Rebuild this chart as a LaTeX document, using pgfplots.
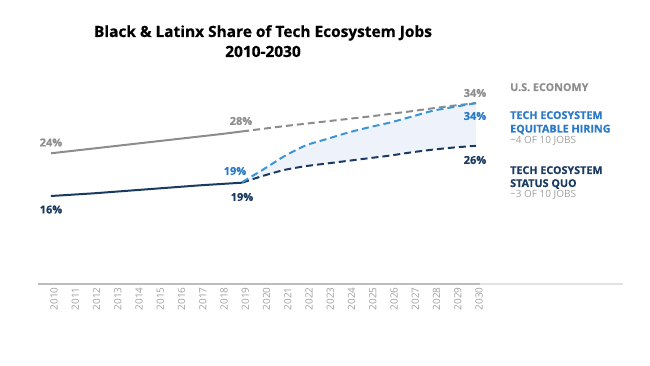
\documentclass[border=0pt]{standalone}
\usepackage{pgfplots}
\pgfplotsset{compat=1.18}
\usepgfplotslibrary{fillbetween}
\usepackage{fontspec}
\setmainfont{Open Sans}[BoldFeatures={FakeBold=0.5}]
\definecolor{grayline}{HTML}{8C8C8C}
\definecolor{graytext}{HTML}{8E8E8E}
\definecolor{lblue}{HTML}{3A94D8}
\definecolor{bluetext}{HTML}{2A7AC8}
\definecolor{navy}{HTML}{1A3A61}
\definecolor{fillblue}{HTML}{EEF3FB}
\definecolor{axisgray}{HTML}{BDBDBD}
\definecolor{axislight}{HTML}{E2E2E2}
\definecolor{ticktext}{HTML}{A0A0A0}
\definecolor{subgray}{HTML}{A0A0A0}
\begin{document}
\begin{tikzpicture}
\path (0bp,0bp) rectangle (650bp,366bp);
\draw[axislight, line width=1.2bp] (480bp,82bp) -- (623bp,82bp);
\begin{axis}[
  at={(38bp,82bp)}, anchor=south west,
  scale only axis, width=445bp, height=204bp,
  xmin=2009.39, xmax=2030.33, ymin=-0.48, ymax=37.73,
  hide y axis, axis x line*=bottom,
  axis line style={-, draw=axisgray, line width=1.2bp},
  xtick={2010,...,2030}, major tick length=0pt,
  xticklabel style={rotate=90, anchor=east, font=\fontsize{10}{12}\selectfont, text=ticktext, yshift=-3bp},
  /pgf/number format/1000 sep={},
  /pgf/number format/assume math mode=true,
]
% U.S. economy
\addplot[grayline, line width=2bp] table {
2010 24.0
2011 24.45
2012 24.9
2013 25.35
2014 25.8
2015 26.25
2016 26.7
2017 27.15
2018 27.6
2019 28.1
};
\addplot[grayline, line width=2bp, dash pattern=on 7bp off 4bp, smooth, tension=0.3] table {
2019 28.1
2020 28.6
2021 29.1
2022 29.55
2023 30.0
2024 30.45
2025 30.9
2026 31.4
2027 31.9
2028 32.45
2029 32.95
2030 33.4
};
% fill between
\addplot[name path=eq, draw=none, forget plot, smooth, tension=0.4] table {
2019 18.6
2020 21.0
2021 23.5
2022 25.5
2023 26.7
2024 27.9
2025 28.9
2026 29.8
2027 30.9
2028 32.0
2029 32.7
2030 33.4
};
\addplot[name path=sq, draw=none, forget plot, smooth, tension=0.4] table {
2019 18.5
2020 19.8
2021 20.9
2022 21.6
2023 22.1
2024 22.6
2025 23.1
2026 23.6
2027 24.2
2028 24.7
2029 25.1
2030 25.4
};
\addplot[fillblue, draw=none] fill between[of=eq and sq];
% status quo
\addplot[navy, line width=2bp] table {
2010 16.0
2011 16.25
2012 16.5
2013 16.8
2014 17.1
2015 17.4
2016 17.7
2017 18.0
2018 18.25
2019 18.5
};
\addplot[navy, line width=2bp, dash pattern=on 7bp off 4bp, smooth, tension=0.4] table {
2019 18.5
2020 19.8
2021 20.9
2022 21.6
2023 22.1
2024 22.6
2025 23.1
2026 23.6
2027 24.2
2028 24.7
2029 25.1
2030 25.4
};
% equitable hiring
\addplot[lblue, line width=2bp, dash pattern=on 7bp off 4bp, smooth, tension=0.4] table {
2019 18.6
2020 21.0
2021 23.5
2022 25.5
2023 26.7
2024 27.9
2025 28.9
2026 29.8
2027 30.9
2028 32.0
2029 32.7
2030 33.4
};
\end{axis}
% title
\node[font=\bfseries\fontsize{15.5}{18}\selectfont, anchor=base] at (263bp,329bp) {Black \& Latinx Share of Tech Ecosystem Jobs};
\node[font=\bfseries\fontsize{15.5}{18}\selectfont, anchor=base] at (263bp,309bp) {2010-2030};
% data labels
\begin{scope}[every node/.style={font=\bfseries\fontsize{11}{13}\selectfont, anchor=center, inner sep=0pt}]
\node[text=graytext] at (51bp,223.5bp) {24\%};
\node[text=graytext] at (241bp,245bp) {28\%};
\node[text=graytext] at (475bp,273bp) {34\%};
\node[text=bluetext] at (475bp,250bp) {34\%};
\node[text=navy] at (475bp,206bp) {26\%};
\node[text=bluetext] at (235bp,195bp) {19\%};
\node[text=navy] at (242bp,169bp) {19\%};
\node[text=navy] at (51bp,156.5bp) {16\%};
\end{scope}
% right labels
\begin{scope}[every node/.style={anchor=base west, inner sep=0pt}]
\node[font=\bfseries\fontsize{10.8}{12}\selectfont, text=graytext] at (510bp,275bp) {U.S. ECONOMY};
\node[font=\bfseries\fontsize{10.8}{12}\selectfont, text=bluetext] at (510bp,247bp) {TECH ECOSYSTEM};
\node[font=\bfseries\fontsize{10.8}{12}\selectfont, text=bluetext] at (510bp,233.5bp) {EQUITABLE HIRING};
\node[font=\fontsize{10}{12}\selectfont, text=subgray] at (510bp,222bp) {\textasciitilde 4 OF 10 JOBS};
\node[font=\bfseries\fontsize{10.8}{12}\selectfont, text=navy] at (510bp,192bp) {TECH ECOSYSTEM};
\node[font=\bfseries\fontsize{10.8}{12}\selectfont, text=navy] at (510bp,179bp) {STATUS QUO};
\node[font=\fontsize{10}{12}\selectfont, text=subgray] at (510bp,168bp) {\textasciitilde 3 OF 10 JOBS};
\end{scope}
\end{tikzpicture}
\end{document}
